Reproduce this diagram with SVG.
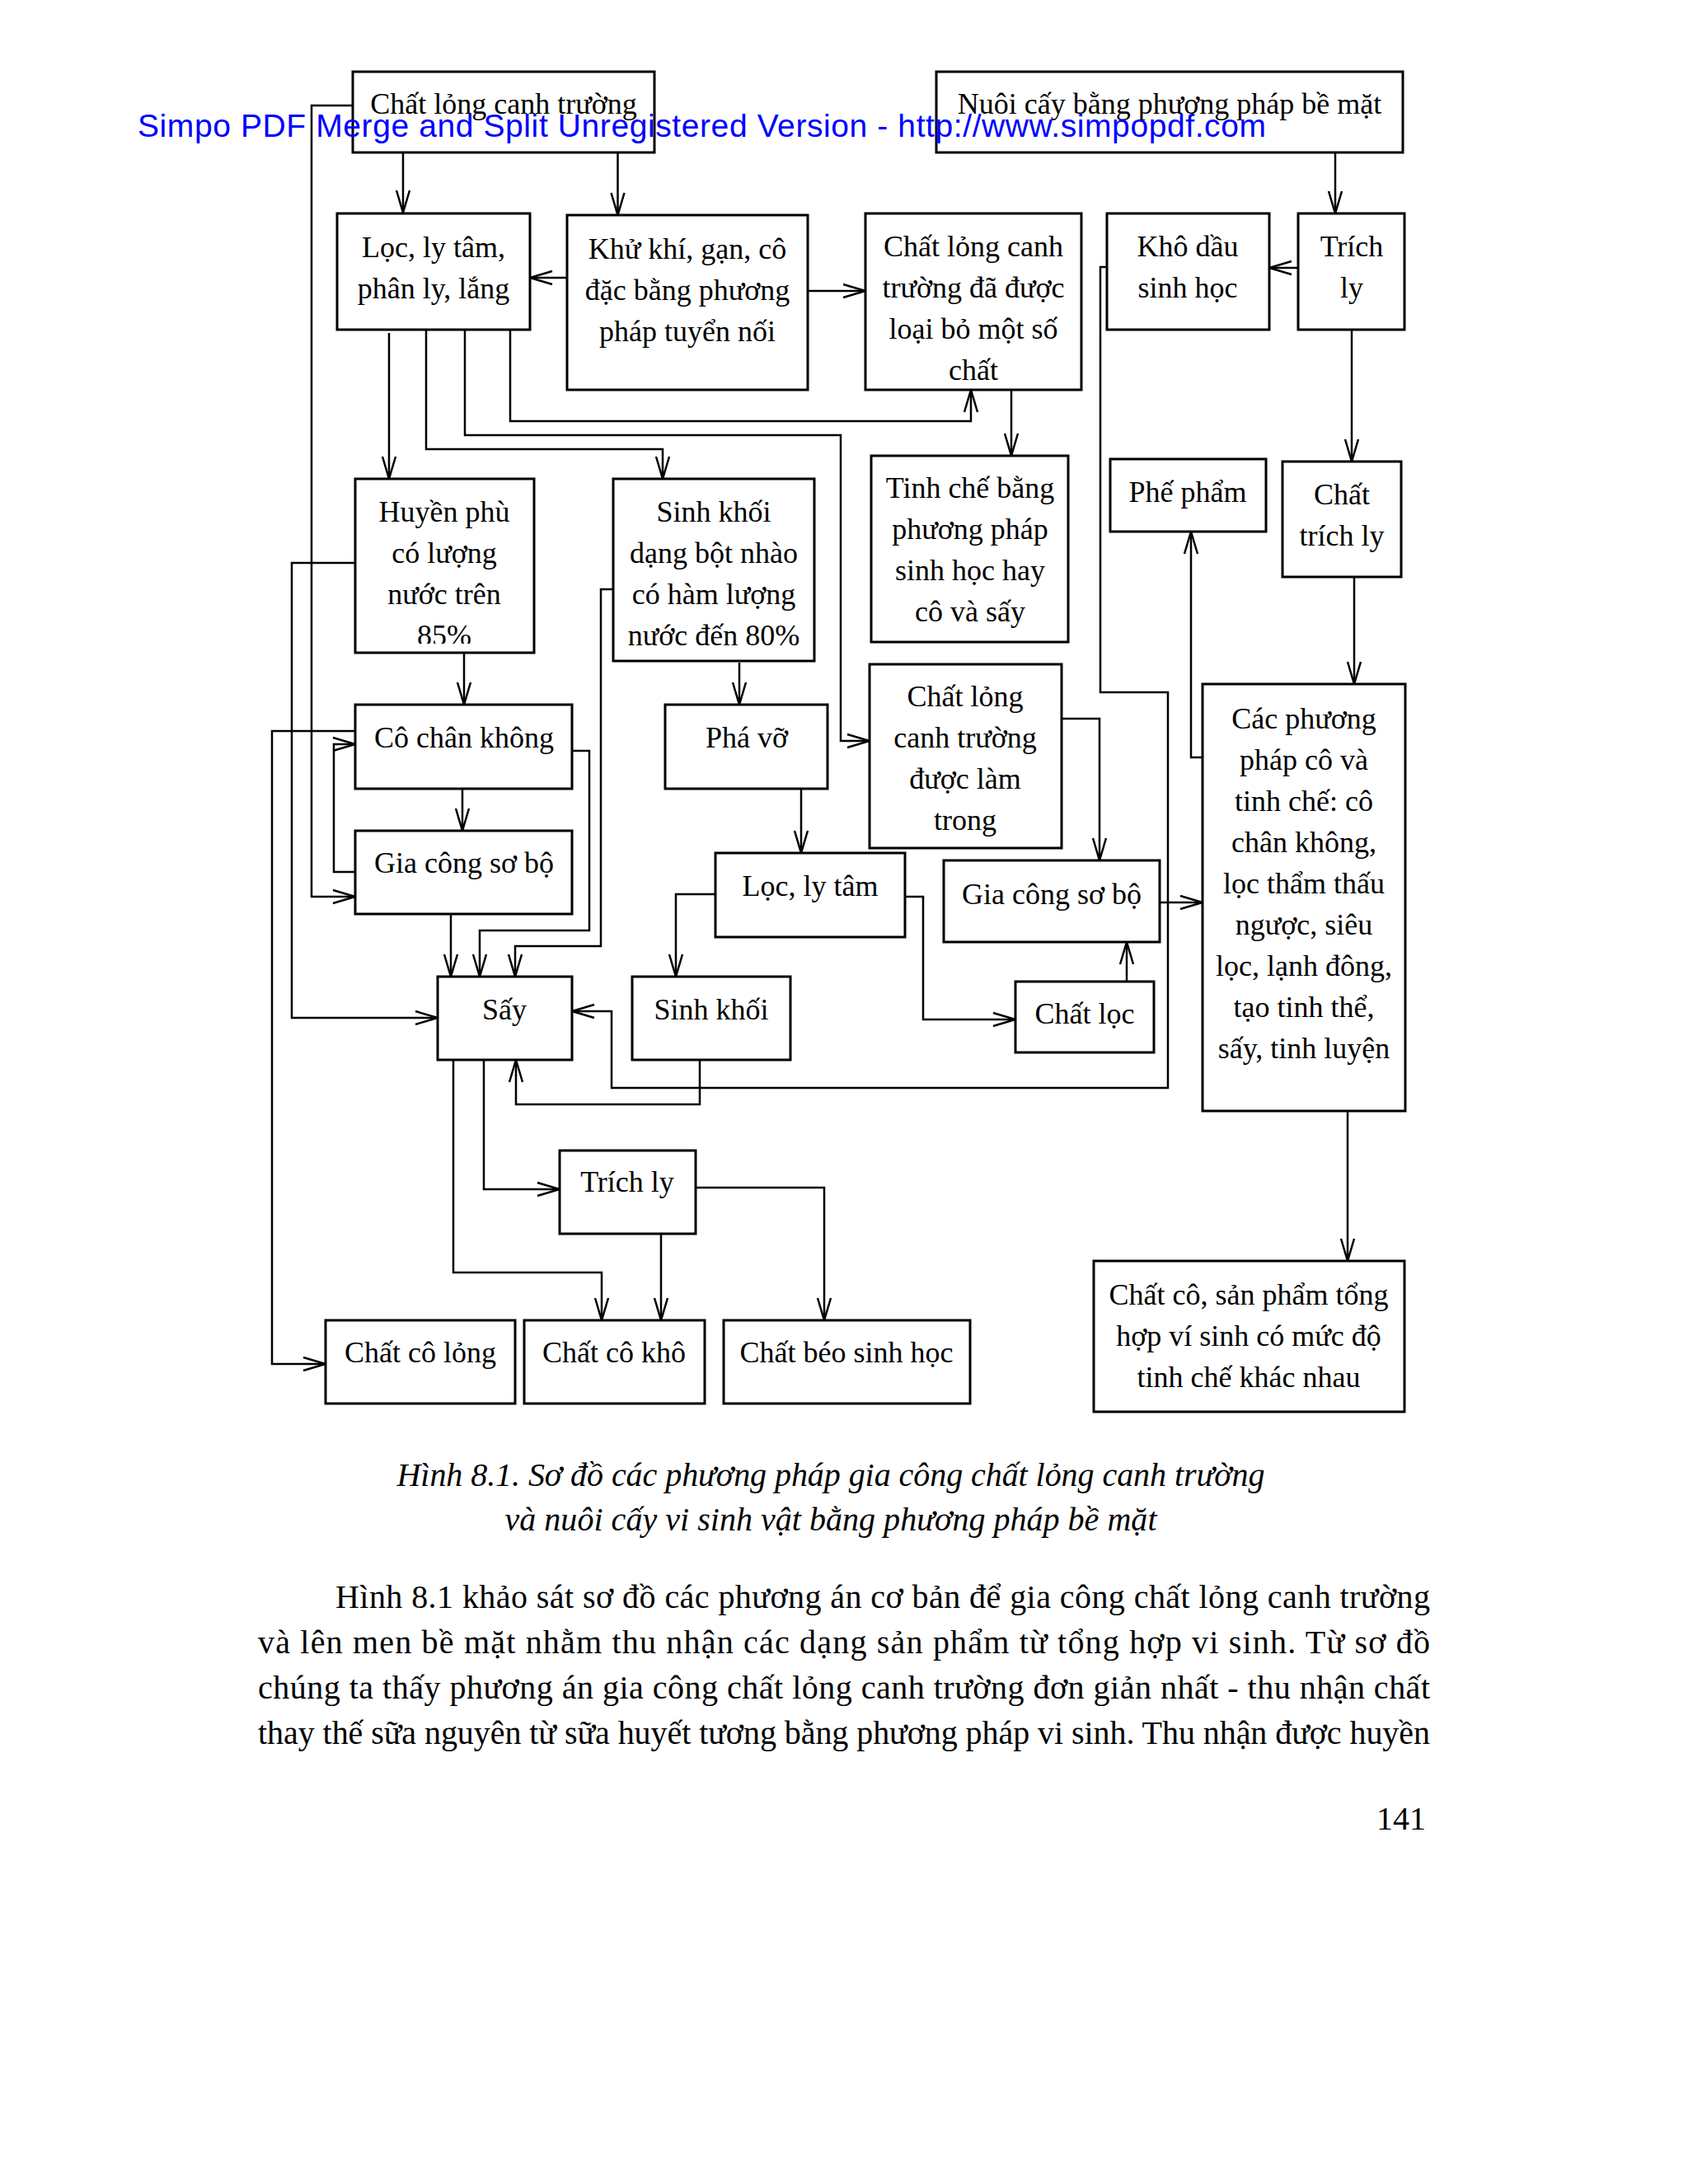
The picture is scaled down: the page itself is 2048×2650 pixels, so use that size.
<svg xmlns="http://www.w3.org/2000/svg" width="2048" height="2650" viewBox="0 0 2048 2650">
<style>
.box{fill:none;stroke:#000;stroke-width:3}
.c{fill:none;stroke:#000;stroke-width:2.5;marker-end:url(#a)}
.l{fill:none;stroke:#000;stroke-width:2.5}
.t{font-family:"Liberation Serif","Times New Roman",serif;font-size:36px;text-anchor:middle;fill:#000}
.cap{font-family:"Liberation Serif","Times New Roman",serif;font-size:40px;font-style:italic;text-anchor:middle;fill:#000}
.body{font-family:"Liberation Serif","Times New Roman",serif;font-size:40px;fill:#000}
.wm{font-family:"Liberation Sans",Arial,sans-serif;font-size:39px;fill:#0000ff}
</style>
<defs>
<marker id="a" viewBox="0 0 30 20" refX="29" refY="10" markerWidth="30" markerHeight="20" markerUnits="userSpaceOnUse" orient="auto">
<path d="M2,2 L29,10 L2,18" fill="none" stroke="#000" stroke-width="2.5"/>
</marker>
<clipPath id="clipH"><rect x="431" y="581" width="217" height="200"/></clipPath>
</defs>
<rect width="2048" height="2650" fill="#fff"/>

<g id="connectors">
<path class="c" d="M489,185 V258"/>
<path class="c" d="M749.5,185 V261"/>
<path class="c" d="M428,128 H378 V1088 H431"/>
<path class="c" d="M688,337 H643"/>
<path class="c" d="M980,353 H1050"/>
<path class="c" d="M472,404 V581"/>
<path class="c" d="M517,400 V545 H804 V581"/>
<path class="c" d="M564,400 V528 H1020 V899 H1055"/>
<path class="c" d="M619,400 V511 H1178 V473"/>
<path class="c" d="M1227,473 V553"/>
<path class="c" d="M1620,185 V259"/>
<path class="c" d="M1575,325 H1540"/>
<path class="c" d="M1640,400 V560"/>
<path class="c" d="M1643,700 V830"/>
<path class="c" d="M1459,919 H1445 V645"/>
<path class="c" d="M1343,324 H1335 V840 H1417 V1320 H742 V1227 H694"/>
<path class="c" d="M1288,872 H1334 V1044"/>
<path class="c" d="M1407,1095 H1459"/>
<path class="c" d="M1367,1191 V1143"/>
<path class="c" d="M1098,1088 H1120 V1237 H1232"/>
<path class="c" d="M868,1085 H820 V1185"/>
<path class="c" d="M972,957 V1035"/>
<path class="c" d="M897,804 V855"/>
<path class="c" d="M563,792 V855"/>
<path class="c" d="M561,957 V1008"/>
<path class="c" d="M431,1058 H405 V903 H431"/>
<path class="c" d="M431,683 H354 V1235 H531"/>
<path class="c" d="M431,887 H330 V1655 H395"/>
<path class="c" d="M547,1109 V1185"/>
<path class="c" d="M694,911 H715 V1129 H582 V1185"/>
<path class="c" d="M744,715 H729 V1148 H625 V1185"/>
<path class="c" d="M849,1286 V1340 H626 V1286"/>
<path class="c" d="M550,1286 V1544 H730 V1602"/>
<path class="c" d="M587,1286 V1443 H679"/>
<path class="c" d="M802,1497 V1602"/>
<path class="c" d="M844,1441 H1000 V1602"/>
<path class="c" d="M1635,1348 V1530"/>
</g>

<g id="n1"><rect class="box" x="428" y="87" width="366" height="98"/><text class="t" x="611" y="138">Chất lỏng canh trường</text></g>
<g id="n2"><rect class="box" x="1136" y="87" width="566" height="98"/><text class="t" x="1419" y="138">Nuôi cấy bằng phương pháp bề mặt</text></g>
<g id="n3"><rect class="box" x="409" y="259" width="234" height="141"/><text class="t" x="526" y="312">Lọc, ly tâm,</text><text class="t" x="526" y="362">phân ly, lắng</text></g>
<g id="n4"><rect class="box" x="688" y="261" width="292" height="212"/><text class="t" x="834" y="314">Khử khí, gạn, cô</text><text class="t" x="834" y="364">đặc bằng phương</text><text class="t" x="834" y="414">pháp tuyển nối</text></g>
<g id="n5"><rect class="box" x="1050" y="259" width="262" height="214"/><text class="t" x="1181" y="311">Chất lỏng canh</text><text class="t" x="1181" y="361">trường đã được</text><text class="t" x="1181" y="411">loại bỏ một số</text><text class="t" x="1181" y="461">chất</text></g>
<g id="n6"><rect class="box" x="1343" y="259" width="197" height="141"/><text class="t" x="1441" y="311">Khô dầu</text><text class="t" x="1441" y="361">sinh học</text></g>
<g id="n7"><rect class="box" x="1575" y="259" width="129" height="141"/><text class="t" x="1640" y="311">Trích</text><text class="t" x="1640" y="361">ly</text></g>
<g id="n8"><rect class="box" x="431" y="581" width="217" height="211"/><g clip-path="url(#clipH)"><text class="t" x="539" y="633">Huyền phù</text><text class="t" x="539" y="683">có lượng</text><text class="t" x="539" y="733">nước trên</text><text class="t" x="539" y="783">85%</text></g></g>
<g id="n9"><rect class="box" x="744" y="581" width="244" height="221"/><text class="t" x="866" y="633">Sinh khối</text><text class="t" x="866" y="683">dạng bột nhào</text><text class="t" x="866" y="733">có hàm lượng</text><text class="t" x="866" y="783">nước đến 80%</text></g>
<g id="n10"><rect class="box" x="1057" y="553" width="239" height="226"/><text class="t" x="1177" y="604">Tinh chế bằng</text><text class="t" x="1177" y="654">phương pháp</text><text class="t" x="1177" y="704">sinh học hay</text><text class="t" x="1177" y="754">cô và sấy</text></g>
<g id="n11"><rect class="box" x="1347" y="557" width="189" height="88"/><text class="t" x="1441" y="609">Phế phẩm</text></g>
<g id="n12"><rect class="box" x="1556" y="560" width="144" height="140"/><text class="t" x="1628" y="612">Chất</text><text class="t" x="1628" y="662">trích ly</text></g>
<g id="n13"><rect class="box" x="431" y="855" width="263" height="102"/><text class="t" x="563" y="907">Cô chân không</text></g>
<g id="n14"><rect class="box" x="807" y="855" width="197" height="102"/><text class="t" x="906" y="907">Phá vỡ</text></g>
<g id="n15"><rect class="box" x="1055" y="806" width="233" height="223"/><text class="t" x="1171" y="857">Chất lỏng</text><text class="t" x="1171" y="907">canh trường</text><text class="t" x="1171" y="957">được làm</text><text class="t" x="1171" y="1007">trong</text></g>
<g id="n16"><rect class="box" x="1459" y="830" width="246" height="518"/><text class="t" x="1582" y="884">Các phương</text><text class="t" x="1582" y="934">pháp cô và</text><text class="t" x="1582" y="984">tinh chế: cô</text><text class="t" x="1582" y="1034">chân không,</text><text class="t" x="1582" y="1084">lọc thẩm thấu</text><text class="t" x="1582" y="1134">ngược, siêu</text><text class="t" x="1582" y="1184">lọc, lạnh đông,</text><text class="t" x="1582" y="1234">tạo tinh thể,</text><text class="t" x="1582" y="1284">sấy, tinh luyện</text></g>
<g id="n17"><rect class="box" x="431" y="1008" width="263" height="101"/><text class="t" x="563" y="1059">Gia công sơ bộ</text></g>
<g id="n18"><rect class="box" x="868" y="1035" width="230" height="102"/><text class="t" x="983" y="1087">Lọc, ly tâm</text></g>
<g id="n19"><rect class="box" x="1145" y="1044" width="262" height="99"/><text class="t" x="1276" y="1097">Gia công sơ bộ</text></g>
<g id="n20"><rect class="box" x="531" y="1185" width="163" height="101"/><text class="t" x="612" y="1237">Sấy</text></g>
<g id="n21"><rect class="box" x="767" y="1185" width="192" height="101"/><text class="t" x="863" y="1237">Sinh khối</text></g>
<g id="n22"><rect class="box" x="1232" y="1191" width="168" height="86"/><text class="t" x="1316" y="1242">Chất lọc</text></g>
<g id="n23"><rect class="box" x="679" y="1396" width="165" height="101"/><text class="t" x="761" y="1446">Trích ly</text></g>
<g id="n24"><rect class="box" x="395" y="1602" width="230" height="101"/><text class="t" x="510" y="1653">Chất cô lỏng</text></g>
<g id="n25"><rect class="box" x="636" y="1602" width="219" height="101"/><text class="t" x="745" y="1653">Chất cô khô</text></g>
<g id="n26"><rect class="box" x="878" y="1602" width="299" height="101"/><text class="t" x="1027" y="1653">Chất béo sinh học</text></g>
<g id="n27"><rect class="box" x="1327" y="1530" width="377" height="183"/><text class="t" x="1515" y="1583">Chất cô, sản phẩm tổng</text><text class="t" x="1515" y="1633">hợp ví sinh có mức độ</text><text class="t" x="1515" y="1683">tinh chế khác nhau</text></g>

<g id="caption">
<text class="cap" x="1008" y="1803" textLength="1053">Hình 8.1. Sơ đồ các phương pháp gia công chất lỏng canh trường</text>
<text class="cap" x="1008" y="1857" textLength="791">và nuôi cấy vi sinh vật bằng phương pháp bề mặt</text>
</g>
<g id="paragraph">
<text class="body" x="407" y="1951" textLength="1328">Hình 8.1 khảo sát sơ đồ các phương án cơ bản để gia công chất lỏng canh trường</text>
<text class="body" x="313" y="2006" textLength="1422">và lên men bề mặt nhằm thu nhận các dạng sản phẩm từ tổng hợp vi sinh. Từ sơ đồ</text>
<text class="body" x="313" y="2061" textLength="1422">chúng ta thấy phương án gia công chất lỏng canh trường đơn giản nhất - thu nhận chất</text>
<text class="body" x="313" y="2116" textLength="1422">thay thế sữa nguyên từ sữa huyết tương bằng phương pháp vi sinh. Thu nhận được huyền</text>
</g>
<text class="body" x="1730" y="2220" text-anchor="end">141</text>
<text class="wm" x="167" y="166" textLength="1369">Simpo PDF Merge and Split Unregistered Version - http://www.simpopdf.com</text>
</svg>
